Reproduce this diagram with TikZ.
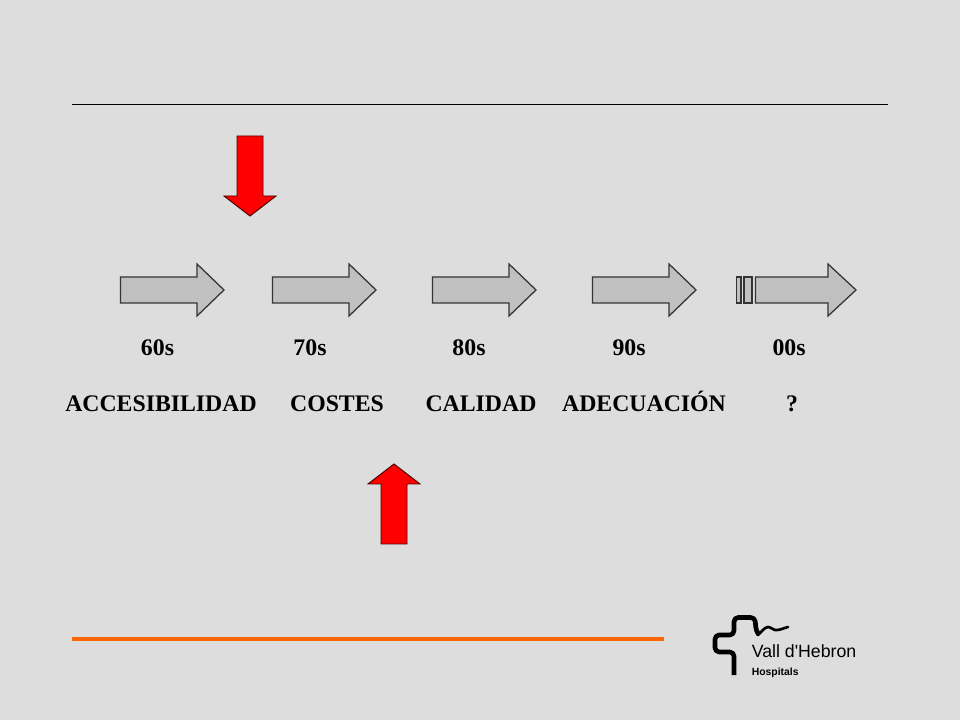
\documentclass[tikz,border=0pt]{standalone}
\usepackage{fontspec}
\setmainfont{Liberation Serif}
\newfontfamily\logofont{Liberation Sans}
\definecolor{backgr}{HTML}{DDDDDD}
\definecolor{arrowgr}{HTML}{C0C0C0}
\definecolor{linegr}{HTML}{333333}
\definecolor{orangeline}{HTML}{FF6600}
\tikzset{
    labeltxt/.style = {font=\fontsize{16.9}{18}\selectfont\bfseries, inner sep=0pt, anchor=base},
    greyarrow/.style = {draw=linegr, fill=arrowgr, line width=0.9pt, line join=miter},
    redarrow/.style = {draw=black!70!red, fill=red, line width=0.7pt}
}
\begin{document}
\begin{tikzpicture}[x=0.025cm, y=-0.025cm]
    \useasboundingbox[fill=backgr] (0,0) rectangle (960,720);
    \draw[black, line width=0.7pt] (72,104) -- (888,104);
    \draw[orangeline, line width=2.8pt] (72,639) -- (664,639);
    % grey arrows
    \foreach \x in {120.5,272.5,432.5,592.5}
    \draw[greyarrow] (\x,277) -- ++(76.5,0) -- ++(0,-13) -- ++(27,26) -- ++(-27,26) -- ++(0,-13) -- ++(-76.5,0) -- cycle;
    \draw[greyarrow] (755.5,277) -- (828,277) -- (828,264) -- (856,290) -- (828,316) -- (828,303) -- (755.5,303) -- cycle;
    \draw[greyarrow] (736.5,277) rectangle (741,303);
    \draw[greyarrow] (744,277) rectangle (752,303);
    % red arrows
    \draw[redarrow] (237,136) -- (263,136) -- (263,196) -- (276,196) -- (250,216) -- (224,196) -- (237,196) -- cycle;
    \draw[redarrow] (381,544) -- (407,544) -- (407,484) -- (420,484) -- (394,464) -- (368,484) -- (381,484) -- cycle;
    % decades
    \node[labeltxt] (dec60) at (157.5,356) {60s};
    \node[labeltxt] (dec70) at (310,356) {70s};
    \node[labeltxt] (dec80) at (469,356) {80s};
    \node[labeltxt] (dec90) at (629,356) {90s};
    \node[labeltxt] (dec00) at (789,356) {00s};
    \node[labeltxt] (accesib) at (161,412) {ACCESIBILIDAD};
    \node[labeltxt] (costes) at (337,412) {COSTES};
    \node[labeltxt] (calidad) at (481,412) {CALIDAD};
    \node[labeltxt] (adecua) at (644,412) {ADECUACIÓN};
    \node[labeltxt] (quest) at (792,412) {?};
    % logo
    \draw[black, line width=3.3pt, line join=round, rounded corners=3pt] (734,675) -- (734,652) -- (715,652) -- (715,635) -- (734,635) -- (734,617.5) -- (755,617.5) -- (756,631) -- (759,635);
    \draw[black, line width=1.9pt, line cap=round] (758,635) .. controls (761,632) and (765,627) .. (768,627) .. controls (771,627) and (774,631) .. (777,630) .. controls (780,630) and (784,628) .. (788,627);
    \node[anchor=base west, inner sep=0pt, font=\logofont\fontsize{12.6}{14}\selectfont] (vall) at (751.5,657) {Vall d'Hebron};
    \node[anchor=base west, inner sep=0pt, font=\logofont\fontsize{7.4}{9}\selectfont\bfseries] (hosp) at (751.5,675) {Hospitals};
\end{tikzpicture}
\end{document}
